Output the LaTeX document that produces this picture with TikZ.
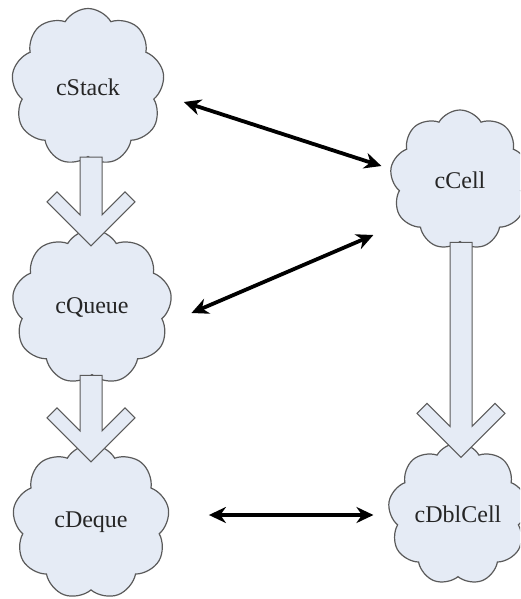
\documentclass[tikz,border=0pt]{standalone}
\usepackage{fontspec}
\setmainfont{Liberation Serif}
\usetikzlibrary{shapes.symbols,arrows.meta,calc}
\definecolor{cloudfill}{RGB}{229,235,245}
\definecolor{cloudline}{RGB}{90,90,90}
\tikzset{
  puff/.style={cloud,cloud puffs=9,cloud puff arc=120,draw=cloudline,line width=1.2pt,fill=cloudfill,
    inner sep=0pt,text=black!85,font=\fontsize{24}{28}\selectfont},
  fatline/.style={draw=cloudline,line width=1pt,fill=cloudfill,line join=miter},
  link/.style={{Stealth[length=17pt,width=16pt]}-{Stealth[length=17pt,width=16pt]},line width=3.8pt}
}
%% hollow block arrow: shaft starts level with #1, tip at #2
\newcommand{\fatarrow}[2]{%
  \draw[fatline] ($(#2 |- #1)+(-11,0)$) -- ($(#2 |- #1)+(11,0)$) -- ($(#2)+(11,-31)$)
    -- ($(#2)+(34,-54)$) -- ($(#2)+(44,-44)$) -- (#2) -- ($(#2)+(-44,-44)$)
    -- ($(#2)+(-34,-54)$) -- ($(#2)+(-11,-31)$) -- cycle;}
\begin{document}
\begin{tikzpicture}[x=1pt,y=-1pt]
    \clip (0,0) rectangle (520,599);
    %% clouds
    \node[puff,minimum width=153pt,minimum height=157pt] (stack) at (88,87) {cStack};
    \node[puff,minimum width=160pt,minimum height=155pt] (queue) at (92,307) {cQueue};
    \node[puff,minimum width=157pt,minimum height=155pt] (deque) at (91,522) {cDeque};
    \node[puff,minimum width=140pt,minimum height=140pt] (cell) at (460,180) {cCell};
    \node[puff,minimum width=140pt,minimum height=142pt] (dbl) at (458,514) {cDblCell};
    %% inheritance arrows
    \coordinate (tipqueue) at ($(queue.north)+(-1,17)$);
    \coordinate (tipdeque) at ($(deque.north)+(0,18)$);
    \coordinate (tipdbl) at ($(dbl.north)+(3,15)$);
    \fatarrow{stack.south}{tipqueue}
    \fatarrow{queue.south}{tipdeque}
    \fatarrow{cell.south}{tipdbl}
    %% uses
    \draw[link] ($(stack.east)+(21,15)$) -- ($(cell.west)+(-10,-14)$);
    \draw[link] ($(queue.east)+(21,6)$) -- ($(cell.west)+(-18,55)$);
    \draw[link] ($(deque.east)+(41,-7)$) -- ($(dbl.west)+(-16,1)$);
\end{tikzpicture}
\end{document}
